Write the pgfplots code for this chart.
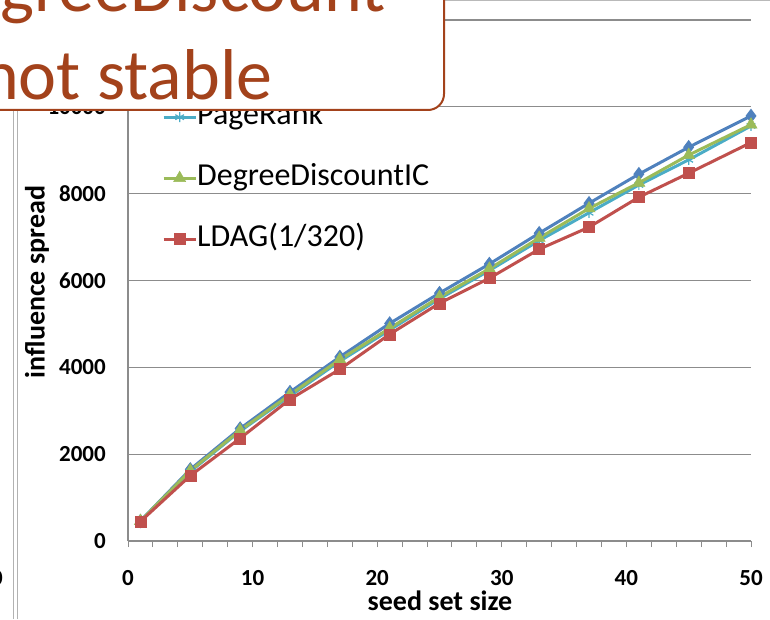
\documentclass[border=0pt]{standalone}
\usepackage{pgfplots}
\pgfplotsset{compat=1.18}
\usepackage{pgfplotstable}
\usepackage{fontspec}
\setmainfont{Carlito}
\definecolor{sblue}{HTML}{4F81BD}
\definecolor{sred}{HTML}{C0504D}
\definecolor{sgreen}{HTML}{9BBB59}
\definecolor{scyan}{HTML}{4BACC6}
\definecolor{gridgray}{HTML}{8C8C8C}
\definecolor{callout}{HTML}{A3421B}

\pgfplotstableread{
x y
1 460
5 1650
9 2590
13 3430
17 4240
21 5010
25 5710
29 6380
33 7090
37 7780
41 8450
45 9070
50 9790
}\bluedata
\pgfplotstableread{
x y
1 460
5 1600
9 2530
13 3340
17 4140
21 4860
25 5580
29 6230
33 6920
37 7560
41 8200
45 8780
50 9560
}\pagerank
\pgfplotstableread{
x y
1 460
5 1620
9 2550
13 3370
17 4180
21 4900
25 5620
29 6270
33 6980
37 7660
41 8250
45 8890
50 9590
}\ddic
\pgfplotstableread{
x y
1 450
5 1505
9 2366
13 3264
17 3956
21 4762
25 5476
29 6052
33 6721
37 7228
41 7919
45 8472
50 9177
}\ldag

\begin{document}
\begin{tikzpicture}[x=1pt,y=1pt]
\begin{axis}[
  at={(128pt,78pt)}, anchor=south west,
  scale only axis, width=623pt, height=521pt,
  xmin=0, xmax=50, ymin=0, ymax=12000,
  xtick={0,10,...,50}, minor xtick={2,4,...,48},
  ytick={0,2000,...,12000},
  scaled y ticks=false,
  /pgf/number format/1000 sep={},
  /pgf/number format/assume math mode=true,
  ymajorgrids,
  grid style={gridgray, line width=1.2pt},
  axis x line=bottom, axis y line=left,
  axis line style={gridgray, line width=1.2pt, -},
  every inner x axis line/.append style={-},
  every inner y axis line/.append style={-},
  every outer x axis line/.append style={-},
  every outer y axis line/.append style={-},
  tick align=outside, major tick length=6pt, minor tick length=6pt,
  xtick style={gridgray, line width=1pt},
  minor tick style={gridgray, line width=1pt},
  ytick style={draw=none},
  tick label style={font=\fontsize{23}{27}\selectfont\bfseries, inner sep=0pt},
  xticklabel style={anchor=center, yshift=-31pt},
  yticklabel style={anchor=east, xshift=-16pt},
  xlabel={seed set size}, ylabel={influence spread},
  label style={font=\fontsize{28}{32}\selectfont\bfseries, inner sep=0pt},
  xlabel style={at={(axis description cs:0.5008,-0.1152)}, anchor=center},
  ylabel style={at={(axis description cs:-0.146,0.497)}, anchor=center},
  clip=false,
  legend style={at={(axis description cs:0.0545,0.8407)}, anchor=north west,
    draw=none, fill=none, inner sep=0pt,
    font=\fontsize{32}{37}\selectfont, row sep=33pt,
    nodes={inner sep=0pt, text height=21pt, text depth=7pt},
    /tikz/every even column/.append style={column sep=4pt}},
  legend cell align=left,
  legend image code/.code={\draw[mark repeat=2,mark phase=2,#1] plot coordinates {(0pt,0pt) (16pt,0pt) (32pt,0pt)};},
]
\addplot[sblue, line width=3pt, mark=diamond*, mark size=6.5pt, mark options={solid, fill=sblue, line width=1pt}, forget plot] table[x=x,y=y] {\bluedata};
\addplot[scyan, line width=3pt, mark=asterisk, mark size=5pt, mark options={solid, line width=1.2pt}] table[x=x,y=y] {\pagerank};
\addlegendentry{PageRank}
\addplot[sgreen, line width=3pt, mark=triangle*, mark size=7pt, mark options={solid, fill=sgreen, line width=0.5pt}] table[x=x,y=y] {\ddic};
\addlegendentry{DegreeDiscountIC}
\addplot[sred, line width=3pt, mark=square*, mark size=5.5pt, mark options={solid, fill=sred, line width=0.5pt}] table[x=x,y=y] {\ldag};
\addlegendentry{LDAG(1/320)}
\end{axis}
% slide frame lines
\draw[gray!55, line width=1pt] (443,618.5) -- (770,618.5);
\draw[gray!60, line width=1pt] (13,0) -- (13,509);
\draw[gray!60, line width=1pt] (17,0) -- (17,509);
\node[font=\fontsize{23}{27}\selectfont\bfseries, inner sep=0pt] at (-3,41) {0};
% callout
\draw[callout, line width=2pt, fill=white, rounded corners=16pt] (-60,509) rectangle (444,720);
\node[anchor=base west, text=callout, font=\fontsize{72}{88}\selectfont, inner sep=0pt] at (-80,607) {DegreeDiscount};
\node[anchor=base west, text=callout, font=\fontsize{72}{88}\selectfont, inner sep=0pt] at (-80,519) {is not stable};
\pgfresetboundingbox
\useasboundingbox (0,0) rectangle (770,619);
\end{tikzpicture}
\end{document}
